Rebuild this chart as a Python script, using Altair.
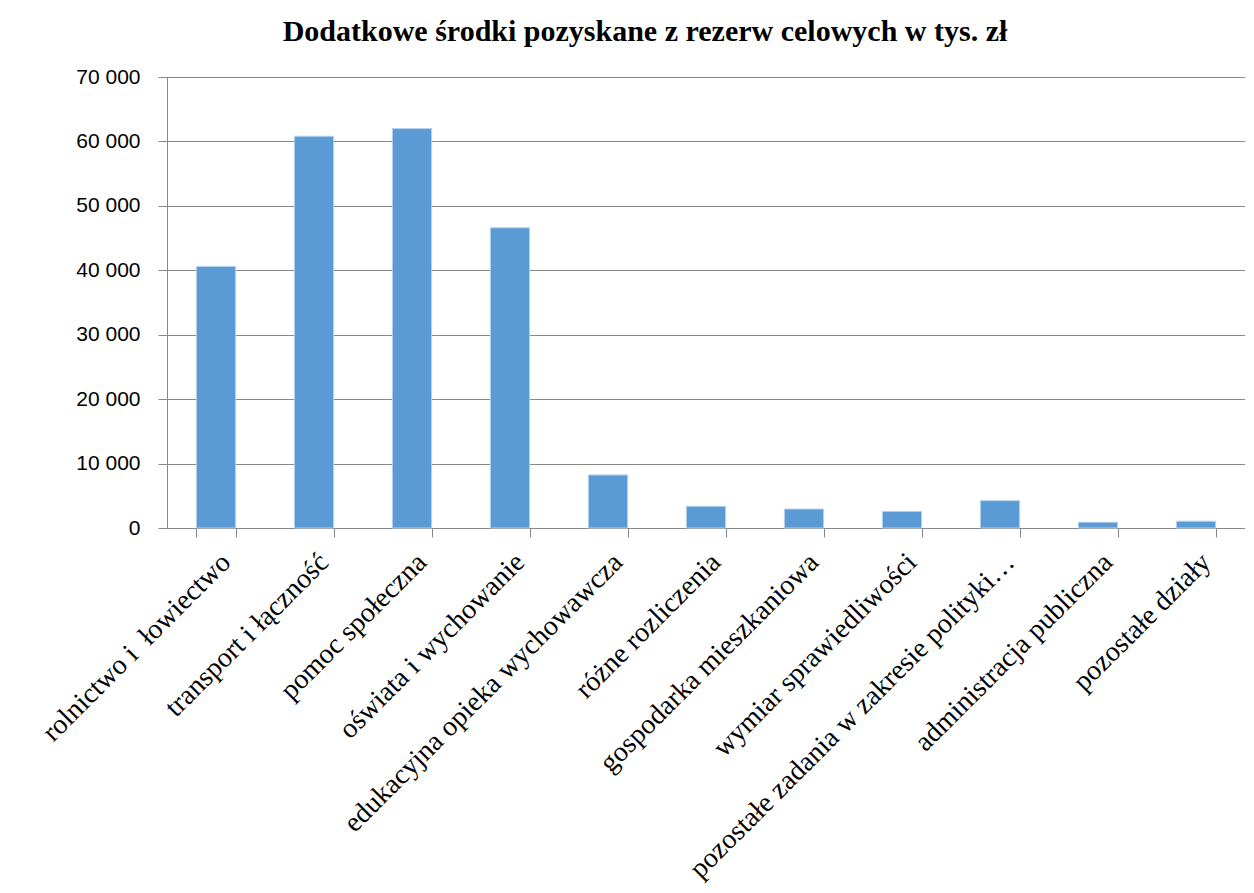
import altair as alt
import pandas as pd

categories = [
    "rolnictwo i \u00a0łowiectwo",
    "transport i łączność",
    "pomoc społeczna",
    "oświata i wychowanie",
    "edukacyjna opieka wychowawcza",
    "różne rozliczenia",
    "gospodarka mieszkaniowa",
    "wymiar sprawiedliwości",
    "pozostałe zadania w zakresie polityki…",
    "administracja publiczna",
    "pozostałe działy",
]
values = [40600, 60800, 62000, 46600, 8230, 3360, 2940, 2570, 4240, 900, 1050]
y_ticks = [0, 10000, 20000, 30000, 40000, 50000, 60000, 70000]

df = pd.DataFrame({"kategoria": categories, "wartosc": values})

chart = (
    alt.Chart(df)
    .mark_bar(color="#5B9BD5", stroke="#b4d0ec", strokeWidth=1)
    .encode(
        x=alt.X(
            "kategoria:N",
            sort=categories,
            title=None,
            scale=alt.Scale(paddingInner=0.6, paddingOuter=0.3),
            axis=alt.Axis(
                labelAngle=-45,
                labelFont="Liberation Serif",
                labelFontSize=28,
                labelColor="#000000",
                labelLimit=0,
                labelPadding=11,
                tickBand="extent",
                tickColor="#888888",
                tickSize=9,
                domainColor="#888888",
                grid=False,
            ),
        ),
        y=alt.Y(
            "wartosc:Q",
            title=None,
            scale=alt.Scale(domain=[0, 70000]),
            axis=alt.Axis(
                values=y_ticks,
                labelExpr="replace(format(datum.value, ','), ',', ' ')",
                labelFont="Liberation Sans",
                labelFontSize=21,
                labelColor="#000000",
                labelPadding=18,
                tickColor="#888888",
                tickSize=9,
                domainColor="#888888",
                gridColor="#888888",
                gridWidth=1,
            ),
        ),
    )
    .properties(
        width=1078,
        height=451,
        title=alt.Title(
            "Dodatkowe środki pozyskane z rezerw celowych w tys. zł",
            font="Liberation Serif",
            fontSize=30,
            fontWeight="bold",
            color="#000000",
            anchor="middle",
            dx=-61,
            offset=19,
        ),
        autosize=alt.AutoSizeParams(type="none"),
        padding={"left": 159, "top": 69, "right": 0, "bottom": 356},
    )
    .configure_view(stroke=None)
)

chart.save("out.html", embed_options={"renderer": "svg", "actions": False})
